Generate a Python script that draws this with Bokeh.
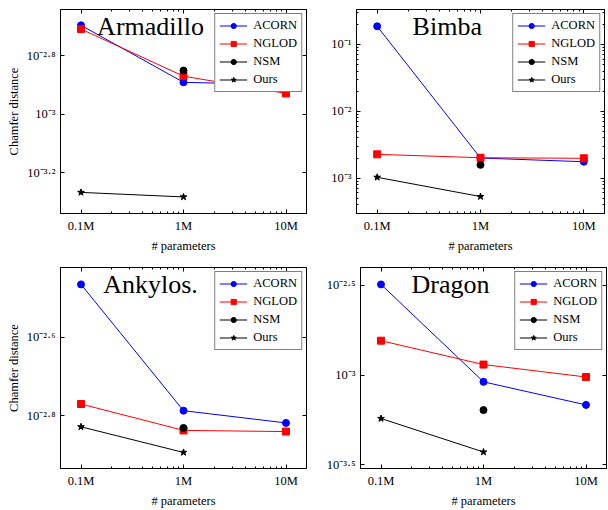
from bokeh.plotting import figure
from bokeh.layouts import row, column
from bokeh.models import (LogAxis, FixedTicker, Label, Legend, LegendItem,
                          CustomJSTickFormatter, Range1d)
from bokeh.embed import file_html
from bokeh.resources import INLINE

FONT = "Liberation Serif"

# ---------------- data ----------------
params = [1e5, 1e6, 1e7]
nsm_params = [1e6]
ours_params = [1e5, 1e6]
x_tick_values = [1e5, 1e6, 1e7]
x_tick_labels = ["0.1M", "1M", "10M"]
x_minor_ticks = [2e5, 3e5, 4e5, 5e5, 6e5, 7e5, 8e5, 9e5,
                 2e6, 3e6, 4e6, 5e6, 6e6, 7e6, 8e6, 9e6]

titles = ["Armadillo", "Bimba", "Ankylos.", "Dragon"]
series_names = ["ACORN", "NGLOD", "NSM", "Ours"]

arm_acorn = [0.002018, 0.001288, 0.001262]
arm_nglod = [0.001959, 0.001352, 0.001180]
arm_nsm = [0.001413]
arm_ours = [0.000541, 0.000522]

bim_acorn = [0.187, 0.00200, 0.00176]
bim_nglod = [0.00227, 0.00202, 0.00198]
bim_nsm = [0.00158]
bim_ours = [0.00103, 0.00053]

ank_acorn = [0.00342, 0.001633, 0.00152]
ank_nglod = [0.001698, 0.001455, 0.001445]
ank_nsm = [0.001476]
ank_ours = [0.001486, 0.001279]

dra_acorn = [0.00319, 0.000916, 0.000682]
dra_nglod = [0.001552, 0.001143, 0.000975]
dra_nsm = [0.000638]
dra_ours = [0.000573, 0.000373]

arm_y_ticks = [10 ** -3.2, 10 ** -3.0, 10 ** -2.8]
arm_y_labels = ["10⁻³·²", "10⁻³", "10⁻²·⁸"]
bim_y_ticks = [1e-3, 1e-2, 1e-1]
bim_y_labels = ["10⁻³", "10⁻²", "10⁻¹"]
bim_y_minor = [m * d for d in (1e-4, 1e-3, 1e-2, 1e-1) for m in range(2, 10)]
ank_y_ticks = [10 ** -2.8, 10 ** -2.6]
ank_y_labels = ["10⁻²·⁸", "10⁻²·⁶"]
dra_y_ticks = [10 ** -3.5, 10 ** -3.0, 10 ** -2.5]
dra_y_labels = ["10⁻³·⁵", "10⁻³", "10⁻²·⁵"]

# log10 extents of each panel's axes
x_range_log = (4.8, 7.2)
arm_y_range_log = (-3.339, -2.641)
bim_y_range_log = (-3.529, -0.477)
ank_y_range_log = (-2.934, -2.423)
dra_y_range_log = (-3.520, -2.402)

LABEL_CODE = """
let best = 0; let bd = Infinity;
for (let i = 0; i < vals.length; i++) {
  const d = Math.abs(Math.log10(tick) - Math.log10(vals[i]));
  if (d < bd) { bd = d; best = i; }
}
return labels[best];
"""


def make_formatter(vals, labels):
    return CustomJSTickFormatter(args=dict(vals=vals, labels=labels), code=LABEL_CODE)


def style_axis(ax, ticker, formatter, label=None):
    ax.ticker = ticker
    ax.formatter = formatter
    ax.major_tick_in = 4
    ax.major_tick_out = 0
    ax.minor_tick_in = 2
    ax.minor_tick_out = 0
    ax.axis_line_color = "black"
    ax.major_tick_line_color = "black"
    ax.minor_tick_line_color = "black"
    ax.major_label_text_font = FONT
    ax.major_label_text_font_size = "12.5px"
    ax.major_label_text_color = "black"
    ax.major_label_standoff = 5
    if label is not None:
        ax.axis_label = label
        ax.axis_label_text_font = FONT
        ax.axis_label_text_font_size = "12.5px"
        ax.axis_label_text_font_style = "normal"
        ax.axis_label_text_color = "black"
        ax.axis_label_standoff = 3


def mirror(p, ticker, side):
    ax = LogAxis(ticker=ticker, formatter=CustomJSTickFormatter(code="return ''"),
                 major_tick_in=4, major_tick_out=0, minor_tick_in=2, minor_tick_out=0,
                 major_label_standoff=0, major_label_text_font_size="1px",
                 axis_line_color="black", major_tick_line_color="black",
                 minor_tick_line_color="black")
    p.add_layout(ax, side)


def panel(title, acorn, nglod, nsm, ours, yticks, ylabels, yminor, yr,
          width, height, border_left, border_right, border_top, border_bottom, ylabel):
    p = figure(width=width, height=height, x_axis_type="log", y_axis_type="log",
               x_range=Range1d(10 ** x_range_log[0], 10 ** x_range_log[1]),
               y_range=Range1d(10 ** yr[0], 10 ** yr[1]),
               output_backend="svg", toolbar_location=None,
               min_border_left=border_left, min_border_right=border_right,
               min_border_top=border_top, min_border_bottom=border_bottom)
    p.grid.visible = False
    p.outline_line_color = "black"
    p.outline_line_alpha = 1
    p.background_fill_color = "white"
    p.border_fill_color = "white"

    xt = FixedTicker(ticks=x_tick_values, minor_ticks=x_minor_ticks)
    yt = FixedTicker(ticks=yticks, minor_ticks=yminor)
    style_axis(p.below[0], xt, make_formatter(x_tick_values, x_tick_labels), "# parameters")
    style_axis(p.left[0], yt, make_formatter(yticks, ylabels), ylabel)
    mirror(p, xt, "above")
    mirror(p, yt, "right")

    r_al = p.line(params, acorn, line_color="blue", line_width=1)
    r_as = p.scatter(params, acorn, marker="circle", size=7, fill_color="blue", line_color="blue")
    r_nl = p.line(params, nglod, line_color="red", line_width=1)
    r_ns = p.scatter(params, nglod, marker="square", size=7, fill_color="red", line_color="red")
    r_ml = p.line(nsm_params, nsm, line_color="black", line_width=1)
    r_ms = p.scatter(nsm_params, nsm, marker="circle", size=7, fill_color="black", line_color="black")
    r_ol = p.line(ours_params, ours, line_color="black", line_width=1)
    r_os = p.scatter(ours_params, ours, marker="star", size=7, fill_color="black", line_color="black")

    legend = Legend(items=[
        LegendItem(label=series_names[0], renderers=[r_al, r_as]),
        LegendItem(label=series_names[1], renderers=[r_nl, r_ns]),
        LegendItem(label=series_names[2], renderers=[r_ml, r_ms]),
        LegendItem(label=series_names[3], renderers=[r_ol, r_os]),
    ], location="top_right")
    legend.label_text_font = FONT
    legend.label_text_font_size = "12.5px"
    legend.label_text_color = "black"
    legend.label_height = 13
    legend.glyph_height = 13
    legend.glyph_width = 28
    legend.label_standoff = 6
    legend.spacing = 3
    legend.padding = 4
    legend.margin = 4
    legend.border_line_color = "black"
    legend.border_line_width = 1
    legend.background_fill_alpha = 1
    p.add_layout(legend)

    # title inside the plot area
    tx = 10 ** (x_range_log[0] + 0.366 * (x_range_log[1] - x_range_log[0]))
    ty = 10 ** (yr[1] - 0.085 * (yr[1] - yr[0]))
    p.add_layout(Label(x=tx, y=ty, text=title, text_font=FONT, text_font_size="26px",
                       text_align="center", text_baseline="middle", text_color="black"))
    return p


p1 = panel(titles[0], arm_acorn, arm_nglod, arm_nsm, arm_ours, arm_y_ticks, arm_y_labels, [],
           arm_y_range_log, 308, 255, 60, 2, 9, 40, "Chamfer distance")
p2 = panel(titles[1], bim_acorn, bim_nglod, bim_nsm, bim_ours, bim_y_ticks, bim_y_labels, bim_y_minor,
           bim_y_range_log, 300, 255, 48, 4, 9, 40, None)
p3 = panel(titles[2], ank_acorn, ank_nglod, ank_nsm, ank_ours, ank_y_ticks, ank_y_labels, [],
           ank_y_range_log, 308, 255, 60, 2, 12, 37, "Chamfer distance")
p4 = panel(titles[3], dra_acorn, dra_nglod, dra_nsm, dra_ours, dra_y_ticks, dra_y_labels, [],
           dra_y_range_log, 300, 255, 52, 2, 12, 37, None)

layout = column(row(p1, p2), row(p3, p4))

open("out.html", "w").write(file_html(layout, INLINE))
